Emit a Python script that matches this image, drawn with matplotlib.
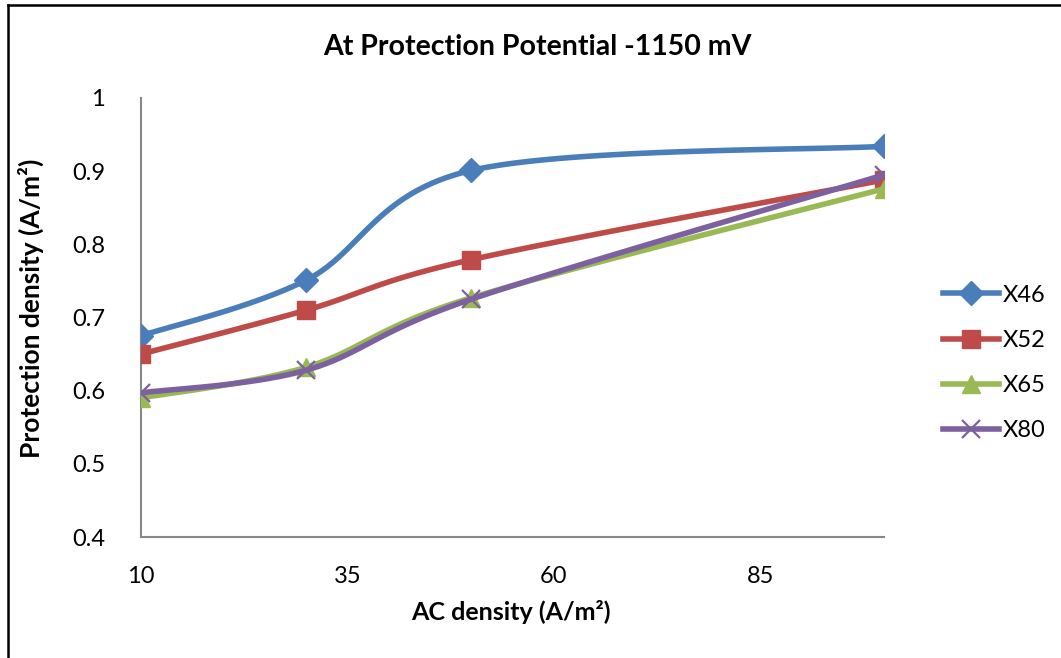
import numpy as np
import matplotlib
matplotlib.use("Agg")
import matplotlib.pyplot as plt
from matplotlib.lines import Line2D

plt.rcParams['font.family'] = ['Lato', 'DejaVu Sans']

# ---- data ----
ac_density = [10, 30, 50, 100]
x46 = [0.675, 0.751, 0.901, 0.934]
x52 = [0.650, 0.710, 0.779, 0.888]
x65 = [0.590, 0.632, 0.727, 0.876]
x80 = [0.597, 0.628, 0.725, 0.895]
series_names = ['X46', 'X52', 'X65', 'X80']
x_ticks = [10, 35, 60, 85]
y_ticks = [0.4, 0.5, 0.6, 0.7, 0.8, 0.9, 1.0]
y_tick_labels = ['0.4', '0.5', '0.6', '0.7', '0.8', '0.9', '1']
title = 'At Protection Potential -1150 mV'
xlabel = 'AC density (A/m²)'
ylabel = 'Protection density (A/m²)'

colors = ['#4A7EBB', '#BE4B48', '#98B954', '#7D60A0']
markers = ['D', 's', '^', 'x']
msizes = [12, 13, 13, 13]
LW = 4.0


def smooth(xs, ys, n=40):
    """Excel-style smoothed line (Catmull-Rom Bezier)."""
    P = np.column_stack([xs, ys]).astype(float)
    out = []
    m = len(P)
    for i in range(m - 1):
        p0 = P[i - 1] if i > 0 else P[i]
        p1 = P[i]
        p2 = P[i + 1]
        p3 = P[i + 2] if i + 2 < m else P[i + 1]
        c1 = p1 + (p2 - p0) / 6.0
        c2 = p2 - (p3 - p1) / 6.0
        t = np.linspace(0, 1, n)[:, None]
        seg = ((1 - t) ** 3) * p1 + 3 * ((1 - t) ** 2) * t * c1 + 3 * (1 - t) * t ** 2 * c2 + t ** 3 * p2
        out.append(seg if i == 0 else seg[1:])
    s = np.vstack(out)
    return s[:, 0], s[:, 1]


fig = plt.figure(figsize=(10.61, 6.58), dpi=100)
ax = fig.add_axes([141 / 1061, 1 - 537 / 658, (884 - 141) / 1061, (537 - 98) / 658])

data = [x46, x52, x65, x80]
for k, (ys, name) in enumerate(zip(data, series_names)):
    sx, sy = smooth(ac_density, ys)
    ax.plot(sx, sy, color=colors[k], lw=LW, solid_capstyle='round', zorder=2 + k * 2)
    if markers[k] == 'x':
        ax.plot(ac_density, ys, ls='none', marker='x', ms=msizes[k], mew=1.6,
                color=colors[k], zorder=3 + k * 2)
    else:
        ax.plot(ac_density, ys, ls='none', marker=markers[k], ms=msizes[k],
                mfc=colors[k], mec=colors[k], zorder=3 + k * 2)

ax.set_xlim(10, 100)
ax.set_ylim(0.4, 1.0)
ax.set_xticks(x_ticks)
ax.set_xticklabels([str(v) for v in x_ticks])
ax.set_yticks(y_ticks)
ax.set_yticklabels(y_tick_labels)
ax.tick_params(axis='both', length=0, labelsize=17, colors='black')
ax.tick_params(axis='x', pad=21)
ax.tick_params(axis='y', pad=26)
for s in ['top', 'right']:
    ax.spines[s].set_visible(False)
for s in ['left', 'bottom']:
    ax.spines[s].set_color('#888888')
    ax.spines[s].set_linewidth(1.5)

fig.text(537 / 1061, 1 - 47 / 658, title, ha='center', va='center',
         fontsize=20.5, fontweight='bold')
fig.text(511 / 1061, 1 - 612 / 658, xlabel, ha='center', va='center',
         fontsize=18, fontweight='bold')
fig.text(31 / 1061, 1 - 308 / 658, ylabel, ha='center', va='center',
         fontsize=19, fontweight='bold', rotation=90)

handles = []
for k, name in enumerate(series_names):
    if markers[k] == 'x':
        h = Line2D([], [], color=colors[k], lw=LW, marker='x', ms=msizes[k], mew=1.6)
    else:
        h = Line2D([], [], color=colors[k], lw=LW, marker=markers[k], ms=msizes[k],
                   mfc=colors[k], mec=colors[k])
    handles.append(h)
leg = fig.legend(handles, series_names, loc='center left',
                 bbox_to_anchor=(943 / 1061, 1 - 363 / 658), frameon=False,
                 fontsize=17, handlelength=2.37, handletextpad=0.17, labelspacing=1.03,
                 borderpad=0, borderaxespad=0)

# chart border (only top and left visible in frame)
fig.add_artist(Line2D([8 / 1061, 8 / 1061], [0, 1 - 5 / 658], transform=fig.transFigure,
                      color='black', lw=1.8))
fig.add_artist(Line2D([8 / 1061, 1], [1 - 5 / 658, 1 - 5 / 658], transform=fig.transFigure,
                      color='black', lw=1.8))

fig.savefig('out.png', dpi=100)
